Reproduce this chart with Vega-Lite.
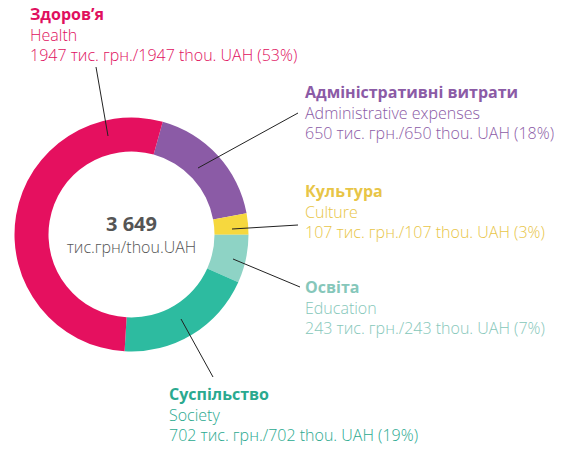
{
  "$schema": "https://vega.github.io/schema/vega-lite/v6.json",
  "width": 263,
  "height": 469,
  "padding": 0,
  "autosize": {"type": "pad"},
  "background": "white",
  "config": {"view": {"stroke": null}},
  "resolve": {"scale": {"color": "independent"}},
  "datasets": {
    "budget": [
      {"order": 1, "key": "admin", "uk": "Адміністративні витрати", "en": "Administrative expenses", "value": 650, "amount": "650 тис. грн./650 thou. UAH (18%)", "lx": 305, "ly": 98, "x1": 198, "y1": 168, "x2": 298, "y2": 113},
      {"order": 2, "key": "culture", "uk": "Культура", "en": "Culture", "value": 107, "amount": "107 тис. грн./107 thou. UAH (3%)", "lx": 305, "ly": 197, "x1": 232, "y1": 229, "x2": 298, "y2": 225},
      {"order": 3, "key": "education", "uk": "Освіта", "en": "Education", "value": 243, "amount": "243 тис. грн./243 thou. UAH (7%)", "lx": 305, "ly": 293, "x1": 233, "y1": 259, "x2": 300, "y2": 287},
      {"order": 4, "key": "society", "uk": "Суспільство", "en": "Society", "value": 702, "amount": "702 тис. грн./702 thou. UAH (19%)", "lx": 169, "ly": 400, "x1": 181, "y1": 319, "x2": 213, "y2": 377},
      {"order": 5, "key": "health", "uk": "Здоров’я", "en": "Health", "value": 1947, "amount": "1947 тис. грн./1947 thou. UAH (53%)", "lx": 30, "ly": 20, "x1": 96, "y1": 67, "x2": 108, "y2": 136}
    ],
    "center": [{"total": "3 649", "unit": "тис.грн/thou.UAH"}]
  },
  "layer": [
    {
      "data": {"name": "budget"},
      "mark": {"type": "arc", "outerRadius": 117, "innerRadius": 83},
      "encoding": {
        "theta": {"field": "value", "type": "quantitative", "stack": true, "scale": {"range": [0.27, 6.5532]}},
        "order": {"field": "order", "type": "quantitative"},
        "color": {"field": "key", "type": "nominal", "legend": null,
          "scale": {"domain": ["admin", "culture", "education", "society", "health"],
                    "range": ["#8B5BA6", "#F6D83E", "#8ED3C5", "#2DBBA0", "#E5105F"]}}
      }
    },
    {
      "data": {"name": "budget"},
      "mark": {"type": "rule", "color": "#222222", "strokeWidth": 1},
      "encoding": {
        "x": {"field": "x1", "type": "quantitative", "axis": null, "scale": {"domain": [0, 263], "nice": false, "zero": false}},
        "y": {"field": "y1", "type": "quantitative", "axis": null, "scale": {"domain": [0, 469], "nice": false, "zero": false, "reverse": true}},
        "x2": {"field": "x2"},
        "y2": {"field": "y2"}
      }
    },
    {
      "data": {"name": "budget"},
      "mark": {"type": "text", "align": "left", "baseline": "alphabetic", "font": "Open Sans", "fontSize": 16, "fontWeight": "bold"},
      "encoding": {
        "x": {"field": "lx", "type": "quantitative"},
        "y": {"field": "ly", "type": "quantitative"},
        "text": {"field": "uk"},
        "color": {"field": "key", "type": "nominal", "legend": null,
          "scale": {"domain": ["admin", "culture", "education", "society", "health"],
                    "range": ["#8B5BA6", "#E8C547", "#86C7BA", "#2AA98F", "#E0105E"]}}
      }
    },
    {
      "data": {"name": "budget"},
      "mark": {"type": "text", "align": "left", "baseline": "alphabetic", "font": "Open Sans", "fontSize": 16, "fontWeight": 300, "dy": 21},
      "encoding": {
        "x": {"field": "lx", "type": "quantitative"},
        "y": {"field": "ly", "type": "quantitative"},
        "text": {"field": "en"},
        "color": {"field": "key", "type": "nominal", "legend": null,
          "scale": {"domain": ["admin", "culture", "education", "society", "health"],
                    "range": ["#8B5BA6", "#E8C547", "#86C7BA", "#2AA98F", "#E0105E"]}}
      }
    },
    {
      "data": {"name": "budget"},
      "mark": {"type": "text", "align": "left", "baseline": "alphabetic", "font": "Open Sans", "fontSize": 16, "fontWeight": 300, "dy": 41},
      "encoding": {
        "x": {"field": "lx", "type": "quantitative"},
        "y": {"field": "ly", "type": "quantitative"},
        "text": {"field": "amount"},
        "color": {"field": "key", "type": "nominal", "legend": null,
          "scale": {"domain": ["admin", "culture", "education", "society", "health"],
                    "range": ["#8B5BA6", "#E8C547", "#86C7BA", "#2AA98F", "#E0105E"]}}
      }
    },
    {
      "data": {"name": "center"},
      "mark": {"type": "text", "align": "center", "baseline": "alphabetic", "font": "Open Sans", "fontSize": 20, "fontWeight": "bold", "color": "#555555", "dy": -4},
      "encoding": {"text": {"field": "total"}}
    },
    {
      "data": {"name": "center"},
      "mark": {"type": "text", "align": "center", "baseline": "alphabetic", "font": "Open Sans", "fontSize": 16, "fontWeight": 300, "color": "#555555", "dy": 18},
      "encoding": {"text": {"field": "unit"}}
    }
  ]
}
